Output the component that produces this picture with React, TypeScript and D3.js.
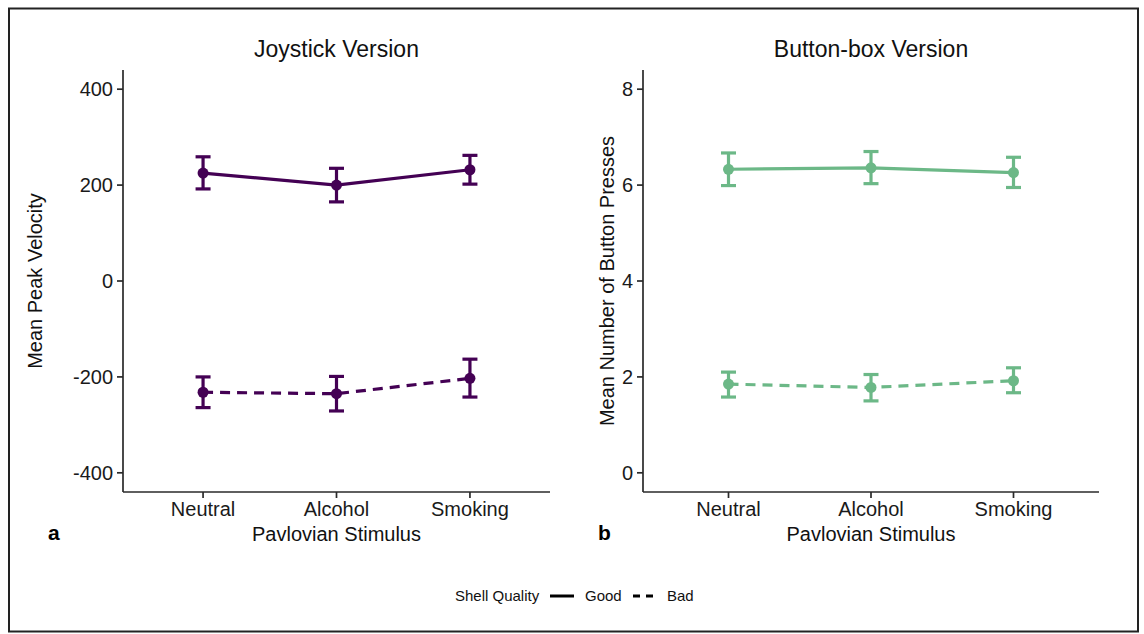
import React from "react";
import * as d3 from "d3";

const categories = ["Neutral", "Alcohol", "Smoking"];

const joyGood = [225, 200, 232];
const joyGoodLo = [192, 165, 202];
const joyGoodHi = [259, 235, 262];
const joyBad = [-232, -235, -203];
const joyBadLo = [-264, -271, -242];
const joyBadHi = [-200, -199, -163];

const btnGood = [6.33, 6.36, 6.26];
const btnGoodLo = [5.99, 6.03, 5.95];
const btnGoodHi = [6.67, 6.7, 6.58];
const btnBad = [1.85, 1.78, 1.92];
const btnBadLo = [1.58, 1.5, 1.67];
const btnBadHi = [2.1, 2.05, 2.19];

const joyTicks = [-400, -200, 0, 200, 400];
const btnTicks = [0, 2, 4, 6, 8];

const FONT = "'Liberation Sans', Arial, Helvetica, sans-serif";

type Series = { mean: number[]; lo: number[]; hi: number[]; dash?: string };

function Panel(props: {
  x0: number;
  x1: number;
  domain: [number, number];
  ticks: number[];
  series: Series[];
  color: string;
  title: string;
  ylabel: string;
  ylabelX: number;
  tag: string;
  tagX: number;
}) {
  const { x0, x1, domain, ticks, series, color, title, ylabel, ylabelX, tag, tagX } = props;
  const top = 70;
  const bottom = 492;
  const x = d3.scalePoint<string>().domain(categories).range([x0, x1]).padding(0.6);
  const y = d3.scaleLinear().domain(domain).range([bottom, top]);
  const line = d3
    .line<number>()
    .x((_, i) => x(categories[i]) as number)
    .y((d) => y(d));
  const axisColor = "#2a2a2a";
  const cap = 7.5;
  return (
    <g>
      <text x={(x0 + x1) / 2} y={57} textAnchor="middle" fontSize={23} fill="#111" fontFamily={FONT}>
        {title}
      </text>
      <line x1={x0} x2={x0} y1={top} y2={bottom} stroke={axisColor} strokeWidth={1.7} />
      <line x1={x0} x2={x1} y1={bottom} y2={bottom} stroke={axisColor} strokeWidth={1.7} />
      {ticks.map((t) => (
        <g key={"yt" + t}>
          <line x1={x0 - 6} x2={x0} y1={y(t)} y2={y(t)} stroke={axisColor} strokeWidth={1.7} />
          <text x={x0 - 10} y={y(t)} dy="0.35em" textAnchor="end" fontSize={20} fill="#1a1a1a" fontFamily={FONT}>
            {t}
          </text>
        </g>
      ))}
      {categories.map((c) => (
        <g key={"xt" + c}>
          <line x1={x(c)} x2={x(c)} y1={bottom} y2={bottom + 6} stroke={axisColor} strokeWidth={1.7} />
          <text x={x(c)} y={516} textAnchor="middle" fontSize={20} fill="#1a1a1a" fontFamily={FONT}>
            {c}
          </text>
        </g>
      ))}
      <text x={(x0 + x1) / 2} y={541} textAnchor="middle" fontSize={20} fill="#111" fontFamily={FONT}>
        Pavlovian Stimulus
      </text>
      <text
        transform={`translate(${ylabelX},${(top + bottom) / 2}) rotate(-90)`}
        textAnchor="middle"
        fontSize={20}
        fill="#111"
        fontFamily={FONT}
      >
        {ylabel}
      </text>
      <text x={tagX} y={540} fontSize={21} fontWeight="bold" fill="#000" fontFamily={FONT}>
        {tag}
      </text>
      {series.map((s, si) => (
        <g key={"s" + si}>
          <path d={line(s.mean) || ""} fill="none" stroke={color} strokeWidth={3.2} strokeDasharray={s.dash} />
          {s.mean.map((m, i) => {
            const cx = x(categories[i]) as number;
            return (
              <g key={"p" + i}>
                <line x1={cx} x2={cx} y1={y(s.lo[i])} y2={y(s.hi[i])} stroke={color} strokeWidth={3.2} />
                <line x1={cx - cap} x2={cx + cap} y1={y(s.lo[i])} y2={y(s.lo[i])} stroke={color} strokeWidth={3.2} />
                <line x1={cx - cap} x2={cx + cap} y1={y(s.hi[i])} y2={y(s.hi[i])} stroke={color} strokeWidth={3.2} />
                <circle cx={cx} cy={y(m)} r={5.5} fill={color} />
              </g>
            );
          })}
        </g>
      ))}
    </g>
  );
}

export default function App() {
  const purple = "#440154";
  const green = "#6cb887";
  return (
    <svg
      width={1144}
      height={634}
      style={{ position: "absolute", left: 0, top: 0, display: "block", background: "#fff" }}
    >
      <rect x={0} y={0} width={1144} height={634} fill="#fff" />
      <rect x={9} y={8.5} width={1129} height={623} fill="none" stroke="#222" strokeWidth={2} />
      <Panel
        x0={123}
        x1={550}
        domain={[-440, 440]}
        ticks={joyTicks}
        series={[
          { mean: joyGood, lo: joyGoodLo, hi: joyGoodHi },
          { mean: joyBad, lo: joyBadLo, hi: joyBadHi, dash: "10,7" },
        ]}
        color={purple}
        title="Joystick Version"
        ylabel="Mean Peak Velocity"
        ylabelX={42}
        tag="a"
        tagX={48}
      />
      <Panel
        x0={643}
        x1={1099}
        domain={[-0.4, 8.4]}
        ticks={btnTicks}
        series={[
          { mean: btnGood, lo: btnGoodLo, hi: btnGoodHi },
          { mean: btnBad, lo: btnBadLo, hi: btnBadHi, dash: "10,7" },
        ]}
        color={green}
        title="Button-box Version"
        ylabel="Mean Number of Button Presses"
        ylabelX={614}
        tag="b"
        tagX={598}
      />
      <g fontFamily={FONT} fontSize={15} fill="#111">
        <text x={455} y={601}>Shell Quality</text>
        <line x1={550} x2={574} y1={596} y2={596} stroke="#000" strokeWidth={3} />
        <text x={585} y={601}>Good</text>
        <line x1={633} x2={655} y1={596} y2={596} stroke="#000" strokeWidth={3} strokeDasharray="7,6" />
        <text x={667} y={601}>Bad</text>
      </g>
    </svg>
  );
}
